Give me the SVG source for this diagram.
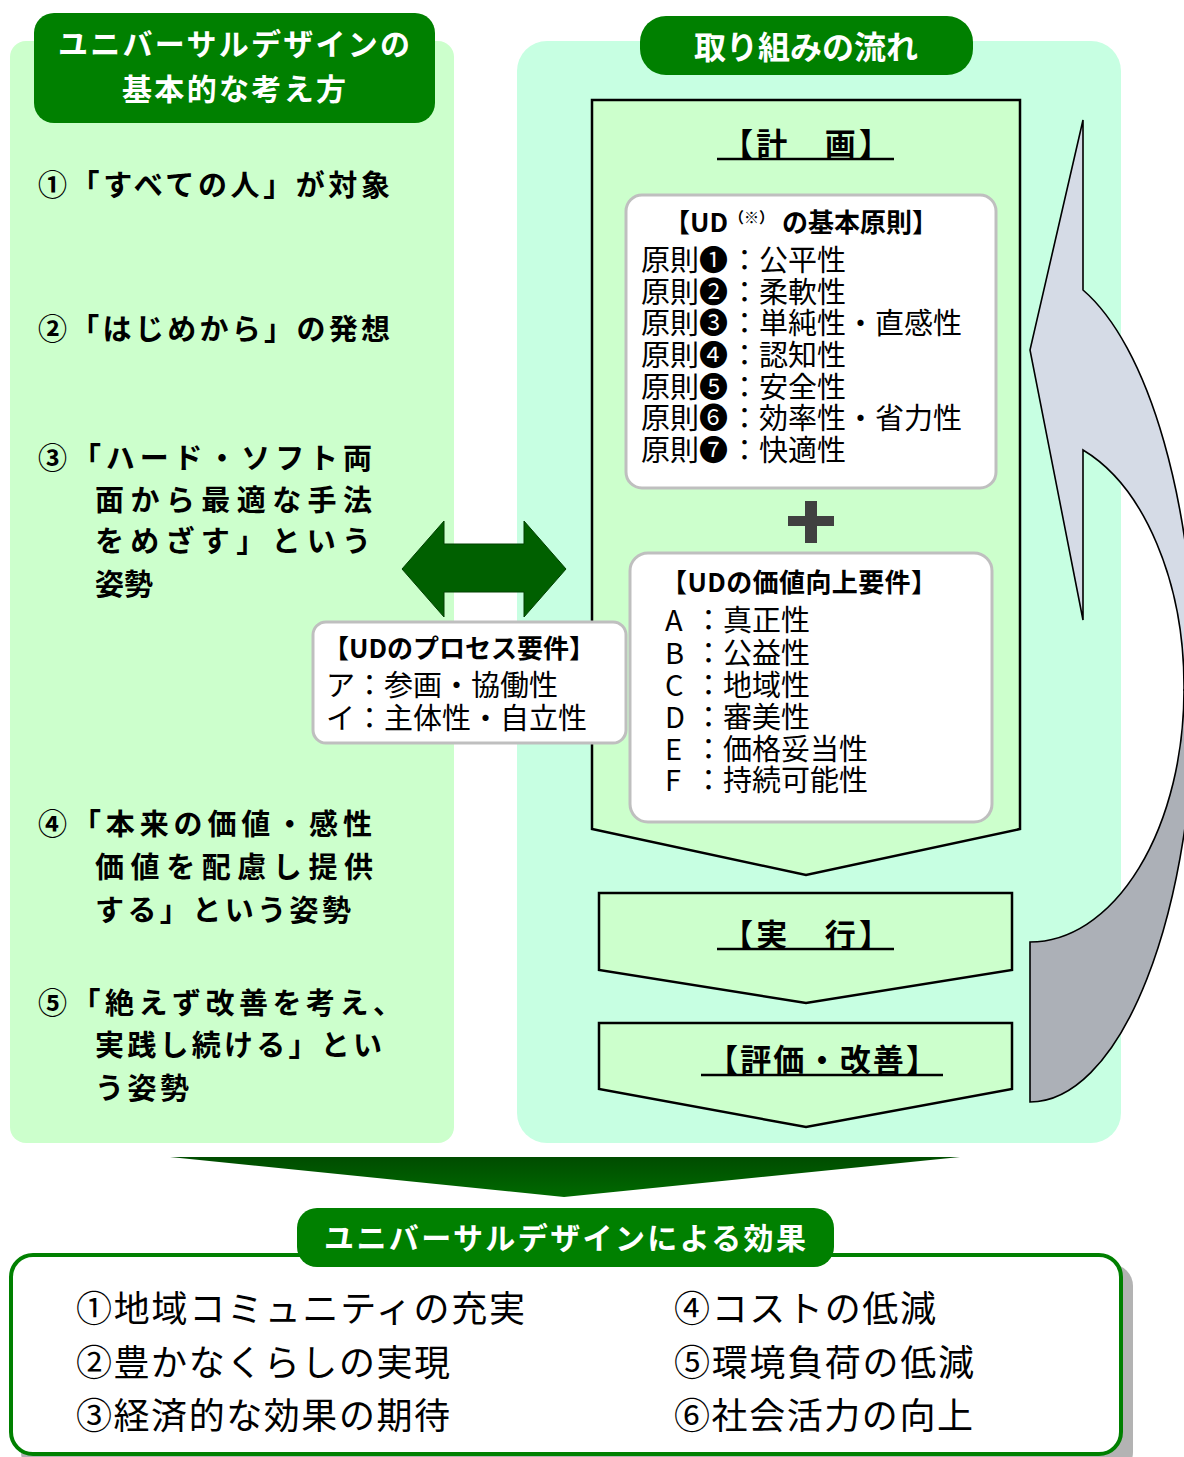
<svg xmlns="http://www.w3.org/2000/svg" width="1184" height="1457" viewBox="0 0 1184 1457">
<style>
text{font-family:"Noto Sans CJK JP","Noto Sans",sans-serif;fill:#000}
.b{font-weight:700}
.w{fill:#fff}
.hd{fill:#008000}
.item{font-size:29px;font-weight:700}
.pr{font-size:29px}
.card{fill:#fff;stroke:#BFBFBF;stroke-width:3}
.stage{fill:#CCFFCC;stroke:#000;stroke-width:2.5}
.ul{stroke:#000;stroke-width:2.5}
.eff{font-size:36px}
</style>
<defs>
<linearGradient id="gTri" x1="0" y1="0" x2="0" y2="1">
<stop offset="0" stop-color="#004C00"/>
<stop offset="1" stop-color="#006A00"/>
</linearGradient>
</defs>
<rect width="1184" height="1457" fill="#fff"/>

<g id="left-panel">
<rect x="10" y="41" width="444" height="1102" rx="16" fill="#CCFFCC"/>
<rect x="34" y="13" width="401" height="110" rx="20" class="hd"/>
<text x="234" y="55" class="b w" font-size="30" text-anchor="middle" textLength="352" lengthAdjust="spacing">ユニバーサルデザインの</text>
<text x="234" y="100" class="b w" font-size="30" text-anchor="middle" textLength="224" lengthAdjust="spacing">基本的な考え方</text>
</g>

<g id="principle-1">
<text x="38" y="196" class="item" textLength="352" lengthAdjust="spacing">①「すべての人」が対象</text>
</g>
<g id="principle-2">
<text x="38" y="340" class="item" textLength="352" lengthAdjust="spacing">②「はじめから」の発想</text>
</g>
<g id="principle-3">
<text x="38" y="469" class="item" textLength="334" lengthAdjust="spacing">③「ハード・ソフト両</text>
<text x="95" y="511" class="item" textLength="277" lengthAdjust="spacing">面から最適な手法</text>
<text x="95" y="552" class="item" textLength="276" lengthAdjust="spacing">をめざす」という</text>
<text x="95" y="595" class="item">姿勢</text>
</g>
<g id="principle-4">
<text x="38" y="835" class="item" textLength="334" lengthAdjust="spacing">④「本来の価値・感性</text>
<text x="95" y="878" class="item" textLength="278" lengthAdjust="spacing">価値を配慮し提供</text>
<text x="95" y="921" class="item" textLength="256" lengthAdjust="spacing">する」という姿勢</text>
</g>
<g id="principle-5">
<text x="38" y="1014" class="item" textLength="364" lengthAdjust="spacing">⑤「絶えず改善を考え、</text>
<text x="95" y="1056" class="item" textLength="287" lengthAdjust="spacing">実践し続ける」とい</text>
<text x="95" y="1099" class="item" textLength="94" lengthAdjust="spacing">う姿勢</text>
</g>

<g id="right-panel">
<rect x="517" y="41" width="604" height="1102" rx="30" fill="#C7FFE2"/>
<rect x="640" y="16" width="333" height="59" rx="26" class="hd"/>
<text x="806" y="59" class="b w" font-size="32" text-anchor="middle">取り組みの流れ</text>
</g>

<g id="plan">
<polygon class="stage" points="592,100 1020,100 1020,829 806,875 592,829"/>
<text x="806" y="155" class="b" font-size="31" text-anchor="middle" textLength="168" lengthAdjust="spacing">【計　画】</text>
<line class="ul" x1="717" y1="159" x2="894" y2="159"/>
</g>

<g id="ud-basic-principles">
<rect class="card" x="626" y="195" width="370" height="293" rx="16"/>
<text y="232" class="b" font-size="26"><tspan x="664">【UD</tspan><tspan x="729" dy="-9" font-size="15">（※）</tspan><tspan x="782" dy="9">の基本原則】</tspan></text>
<text y="271" class="pr"><tspan x="641">原則❶</tspan><tspan x="730">：公平性</tspan></text>
<text y="303" class="pr"><tspan x="641">原則❷</tspan><tspan x="730">：柔軟性</tspan></text>
<text y="334" class="pr"><tspan x="641">原則❸</tspan><tspan x="730">：単純性・直感性</tspan></text>
<text y="366" class="pr"><tspan x="641">原則❹</tspan><tspan x="730">：認知性</tspan></text>
<text y="398" class="pr"><tspan x="641">原則❺</tspan><tspan x="730">：安全性</tspan></text>
<text y="429" class="pr"><tspan x="641">原則❻</tspan><tspan x="730">：効率性・省力性</tspan></text>
<text y="461" class="pr"><tspan x="641">原則❼</tspan><tspan x="730">：快適性</tspan></text>
</g>

<g id="plus">
<rect x="788" y="516" width="46" height="10" fill="#404040"/>
<rect x="805" y="501" width="12" height="42" fill="#404040"/>
</g>

<g id="ud-value-requirements">
<rect class="card" x="630" y="553" width="362" height="269" rx="18"/>
<text x="661" y="592" class="b" font-size="26" textLength="276" lengthAdjust="spacing">【UDの価値向上要件】</text>
<text y="631" class="pr"><tspan x="665">A</tspan><tspan x="694">：真正性</tspan></text>
<text y="664" class="pr"><tspan x="665">B</tspan><tspan x="694">：公益性</tspan></text>
<text y="696" class="pr"><tspan x="665">C</tspan><tspan x="694">：地域性</tspan></text>
<text y="728" class="pr"><tspan x="665">D</tspan><tspan x="694">：審美性</tspan></text>
<text y="760" class="pr"><tspan x="665">E</tspan><tspan x="694">：価格妥当性</tspan></text>
<text y="791" class="pr"><tspan x="665">F</tspan><tspan x="694">：持続可能性</tspan></text>
</g>

<g id="execute">
<polygon class="stage" points="599,893 1012,893 1012,970 806,1003 599,970"/>
<text x="806" y="946" class="b" font-size="31" text-anchor="middle" textLength="168" lengthAdjust="spacing">【実　行】</text>
<line class="ul" x1="717" y1="949" x2="894" y2="949"/>
</g>

<g id="evaluate">
<polygon class="stage" points="599,1023 1012,1023 1012,1089 806,1127 599,1089"/>
<text x="822" y="1071" class="b" font-size="31" text-anchor="middle" textLength="230" lengthAdjust="spacing">【評価・改善】</text>
<line class="ul" x1="701" y1="1075" x2="943" y2="1075"/>
</g>

<g id="connectors">
<path d="M1083,290 L1083,120 L1030,350 L1083,620 L1083,450 A154,252 0 0 1 1184,690 L1195,684 A165,418 0 0 0 1083,290 Z" fill="#D5DBE6" stroke="#000" stroke-width="1.6"/>
<path d="M1184,690 A154,252 0 0 1 1030,942 L1030,1102 A165,418 0 0 0 1195,684 Z" fill="#ACB0B7" stroke="#000" stroke-width="1.6"/>
<polygon points="402,569 444,521 444,544 524,544 524,521 566,569 524,617 524,592 444,592 444,617" fill="#006000" stroke="#004000" stroke-width="1"/>
<polygon points="170,1157 960,1157 564,1197" fill="url(#gTri)"/>
</g>

<g id="ud-process-requirements">
<rect class="card" x="313" y="622" width="313" height="121" rx="13"/>
<text x="323" y="658" class="b" font-size="26" textLength="272" lengthAdjust="spacing">【UDのプロセス要件】</text>
<text x="326" y="696" class="pr">ア：参画・協働性</text>
<text x="326" y="729" class="pr">イ：主体性・自立性</text>
</g>

<g id="effects">
<rect x="21" y="1264" width="1112" height="210" rx="22" fill="#B3B3B3"/>
<rect x="11" y="1255" width="1110" height="199" rx="22" fill="#fff" stroke="#008000" stroke-width="4"/>
<rect x="297" y="1208" width="537" height="59" rx="20" class="hd"/>
<text x="565" y="1249" class="b w" font-size="30" text-anchor="middle" textLength="482" lengthAdjust="spacing">ユニバーサルデザインによる効果</text>
<text x="76" y="1322" class="eff" textLength="449" lengthAdjust="spacing">①地域コミュニティの充実</text>
<text x="76" y="1376" class="eff" textLength="374" lengthAdjust="spacing">②豊かなくらしの実現</text>
<text x="76" y="1429" class="eff" textLength="374" lengthAdjust="spacing">③経済的な効果の期待</text>
<text x="674" y="1322" class="eff" textLength="262" lengthAdjust="spacing">④コストの低減</text>
<text x="674" y="1376" class="eff" textLength="300" lengthAdjust="spacing">⑤環境負荷の低減</text>
<text x="674" y="1429" class="eff" textLength="299" lengthAdjust="spacing">⑥社会活力の向上</text>
</g>
</svg>
